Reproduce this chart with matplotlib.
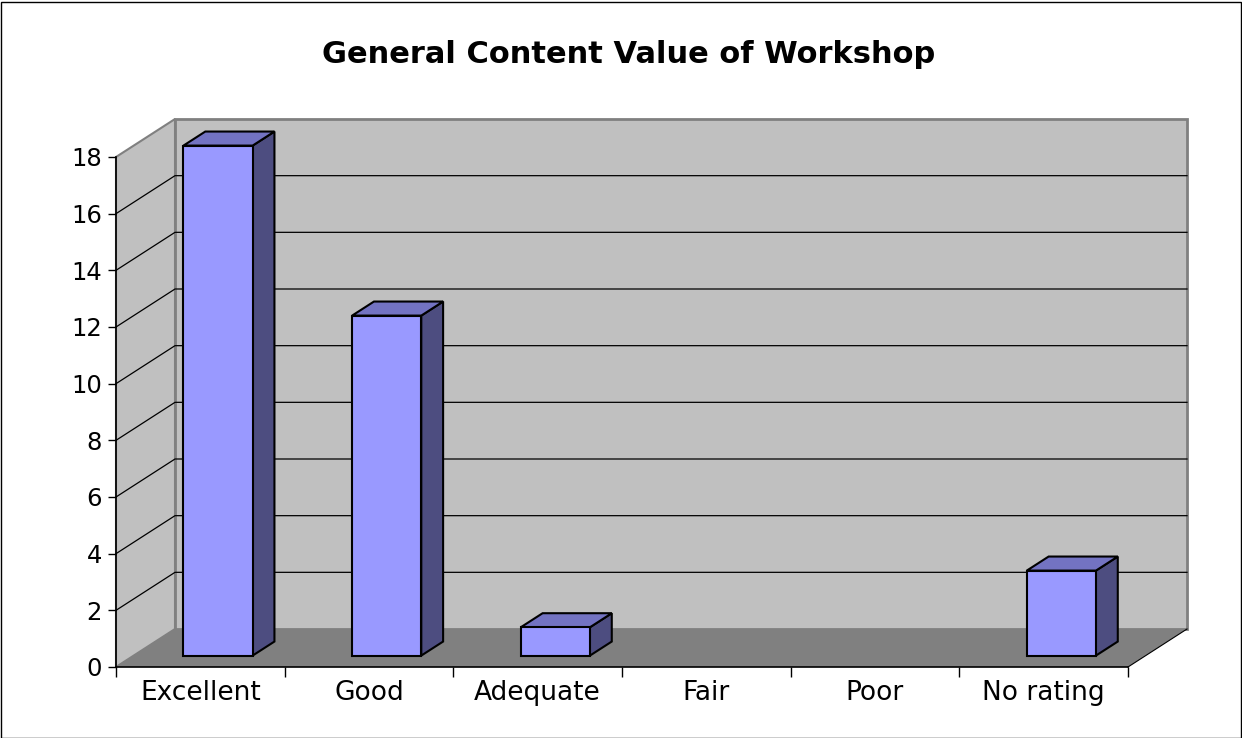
import matplotlib
matplotlib.use("Agg")
import matplotlib.pyplot as plt
import numpy as np
from matplotlib.patches import Polygon, Rectangle

# ---- data ----
categories = ["Excellent", "Good", "Adequate", "Fair", "Poor", "No rating"]
values = [18, 12, 1, 0, 0, 3]
yticks = [0, 2, 4, 6, 8, 10, 12, 14, 16, 18]
title = "General Content Value of Workshop"

# ---- style ----
W, H = 1242, 738
FONT = ["DejaVu Sans"]
WALL = "#C0C0C0"
FLOOR = "#808080"
WALL_EDGE = "#808080"
BAR_FRONT = "#9999FF"
BAR_TOP = "#7373C2"
BAR_SIDE = "#4D4D80"
DEPTH_PX = (59, 38)          # back-wall offset in pixels (x right, y up)
BAR_WIDTH = 0.41
BAR_D0, BAR_D1 = 0.30, 0.67  # bar depth range (fraction of full depth)

plt.rcParams["font.family"] = FONT
fig = plt.figure(figsize=(W / 100, H / 100), dpi=100)
fig.patch.set_facecolor("white")

# front plotting region in pixels
left_px, right_px = 116, 1128
bottom_px, top_px = 667, 157
ax = fig.add_axes([left_px / W, 1 - bottom_px / H,
                   (right_px - left_px) / W, (bottom_px - top_px) / H])
n = len(categories)
ax.set_xlim(0, n)
ax.set_ylim(0, max(yticks))
ax.patch.set_visible(False)

# depth offset in data units
p0 = ax.transData.transform((0, 0))
ddx, ddy = ax.transData.inverted().transform(p0 + np.array(DEPTH_PX))


def pt(x, y, d):
    return (x + d * ddx, y + d * ddy)


ymax = max(yticks)
# left wall
ax.add_patch(Polygon([pt(0, 0, 0), pt(0, ymax, 0), pt(0, ymax, 1), pt(0, 0, 1)],
                     closed=True, facecolor=WALL, edgecolor=WALL_EDGE, lw=1.5,
                     clip_on=False, zorder=1))
# back wall
ax.add_patch(Polygon([pt(0, 0, 1), pt(n, 0, 1), pt(n, ymax, 1), pt(0, ymax, 1)],
                     closed=True, facecolor=WALL, edgecolor=WALL_EDGE, lw=2,
                     clip_on=False, zorder=1))
# floor
ax.add_patch(Polygon([pt(0, 0, 0), pt(n, 0, 0), pt(n, 0, 1), pt(0, 0, 1)],
                     closed=True, facecolor=FLOOR, edgecolor="none",
                     clip_on=False, zorder=1.1))
# floor right edge
xa, ya = zip(pt(n, 0, 0), pt(n, 0, 1))
ax.plot(xa, ya, color="black", lw=0.8, clip_on=False, zorder=1.2)

# gridlines
for yv in yticks:
    if yv == 0 or yv == ymax:
        continue
    xs, ys = zip(pt(0, yv, 0), pt(0, yv, 1), pt(n, yv, 1))
    ax.plot(xs, ys, color="black", lw=0.9, clip_on=False, zorder=1.3)

# bars
for i, v in enumerate(values):
    if v == 0:
        continue
    x0 = i + 0.5 - BAR_WIDTH / 2
    x1 = i + 0.5 + BAR_WIDTH / 2
    kw = dict(closed=True, edgecolor="black", lw=1.5, joinstyle="miter",
              clip_on=False, zorder=3)
    ax.add_patch(Polygon([pt(x1, 0, BAR_D0), pt(x1, v, BAR_D0), pt(x1, v, BAR_D1),
                          pt(x1, 0, BAR_D1)], facecolor=BAR_SIDE, **kw))
    ax.add_patch(Polygon([pt(x0, v, BAR_D0), pt(x1, v, BAR_D0), pt(x1, v, BAR_D1),
                          pt(x0, v, BAR_D1)], facecolor=BAR_TOP, **kw))
    ax.add_patch(Polygon([pt(x0, 0, BAR_D0), pt(x1, 0, BAR_D0), pt(x1, v, BAR_D0),
                          pt(x0, v, BAR_D0)], facecolor=BAR_FRONT, **kw))

# axes / ticks
for s in ["top", "right"]:
    ax.spines[s].set_visible(False)
ax.spines["left"].set_color("black")
ax.spines["left"].set_linewidth(1.2)
ax.spines["bottom"].set_color("black")
ax.spines["bottom"].set_linewidth(1.2)
ax.spines["left"].set_zorder(2)
ax.spines["bottom"].set_zorder(2)

ax.set_yticks(yticks)
ax.set_yticklabels([str(t) for t in yticks])
ax.tick_params(axis="y", direction="out", length=6, width=1, pad=4,
               labelsize=17.5, colors="black")
ax.set_xticks(np.arange(n + 1))
ax.set_xticklabels([])
ax.tick_params(axis="x", which="major", direction="out", length=7.5, width=1)
ax.set_xticks(np.arange(n) + 0.5, minor=True)
ax.set_xticklabels(categories, minor=True)
ax.tick_params(axis="x", which="minor", length=0, pad=9.5, labelsize=19)

fig.text(629 / W, 1 - 63 / H, title, ha="center", va="baseline",
         fontsize=22, fontweight="bold", family=FONT)

# figure border
fig.patches.append(Rectangle((0.5 / W, 0.5 / H), 1 - 2 / W, 1 - 2 / H,
                             transform=fig.transFigure, fill=False,
                             edgecolor="black", lw=1))

fig.savefig("out.png", dpi=100)
